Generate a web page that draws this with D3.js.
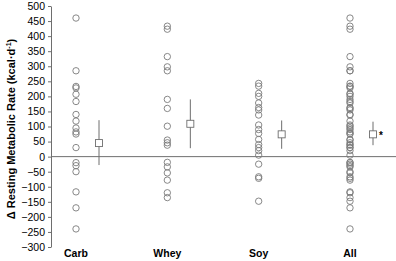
<!DOCTYPE html>
<html>
<head>
<meta charset="utf-8">
<script src="https://cdn.jsdelivr.net/npm/d3@7"></script>
<style>
  body { margin: 0; background: #fff; }
  svg { display: block; font-family: "Liberation Sans", Arial, sans-serif; }
</style>
</head>
<body>
<svg id="chart" width="396" height="261"></svg>
<script>
// Groups along the x axis
const groups = ["Carb", "Whey", "Soy", "All"];

// Individual changes in RMR (kcal/d)
const carbVals = [460, 285, 233, 228, 207, 183, 140, 118, 95, 82, 75, 30, -20, -30, -50, -117, -170, -240];
const wheyVals = [433, 423, 332, 298, 285, 190, 160, 101, 55, 46, 38, -19, -34, -54, -78, -120, -136];
const soyVals = [243, 234, 210, 200, 178, 163, 155, 138, 105, 90, 77, 57, 40, 30, 20, 5, -25, -67, -72, -148];
const allVals = [460, 433, 423, 332, 298, 285, 285, 243, 234, 233, 228, 210, 207, 200, 190, 183, 178, 163,
  160, 155, 140, 138, 118, 105, 101, 95, 90, 82, 77, 75, 57, 55, 46, 40, 38, 30, 30, 20, 5,
  -19, -20, -25, -30, -34, -50, -54, -67, -72, -78, -117, -120, -136, -148, -170, -240];

// Group means with bars (low / high)
const means = [45, 109, 74, 74];
const barLow = [-28, 28, 26, 38];
const barHigh = [121, 190, 120, 116];
const marks = ["", "", "", "*"];

const yTicks = d3.range(-300, 501, 50);

const svg = d3.select("#chart");
const width = 396, height = 261;

const points = [carbVals, wheyVals, soyVals, allVals]
  .flatMap((vals, i) => vals.map(v => ({ g: groups[i], v })));

const x = d3.scalePoint()
  .domain(groups)
  .range([76, 350]);

const y = d3.scaleLinear()
  .domain([-300, 500])
  .range([247, 6]);

const grey = "#6e6e6e";
const offset = 23;

// Y axis
const yAxis = svg.append("g")
  .attr("transform", "translate(51,0)")
  .call(d3.axisLeft(y).tickValues(yTicks).tickSize(3).tickSizeOuter(0).tickPadding(3));
yAxis.select(".domain").attr("stroke", grey);
yAxis.selectAll(".tick line").attr("stroke", grey);
yAxis.selectAll("text")
  .attr("font-size", "10.5px")
  .attr("fill", "#000")
  .style("font-family", "Liberation Sans, Arial, sans-serif");

// zero line
svg.append("line")
  .attr("x1", 51).attr("x2", width)
  .attr("y1", y(0)).attr("y2", y(0))
  .attr("stroke", grey)
  .attr("stroke-width", 1);

// individual points
svg.append("g")
  .selectAll("circle")
  .data(points)
  .enter()
  .append("circle")
    .attr("cx", d => x(d.g))
    .attr("cy", d => y(d.v))
    .attr("r", 3.2)
    .attr("fill", "none")
    .attr("stroke", "#7a7a7a")
    .attr("stroke-width", 0.9);

// mean +/- bars
const stats = groups.map((g, i) => ({ g, mean: means[i], lo: barLow[i], hi: barHigh[i], mark: marks[i] }));

svg.append("g")
  .selectAll("line")
  .data(stats)
  .enter()
  .append("line")
    .attr("x1", d => x(d.g) + offset)
    .attr("x2", d => x(d.g) + offset)
    .attr("y1", d => y(d.lo))
    .attr("y2", d => y(d.hi))
    .attr("stroke", grey)
    .attr("stroke-width", 1);

svg.append("g")
  .selectAll("rect")
  .data(stats)
  .enter()
  .append("rect")
    .attr("x", d => x(d.g) + offset - 3.5)
    .attr("y", d => y(d.mean) - 3.5)
    .attr("width", 7)
    .attr("height", 7)
    .attr("fill", "#fff")
    .attr("stroke", grey)
    .attr("stroke-width", 0.9);

svg.append("g")
  .selectAll("text")
  .data(stats.filter(d => d.mark))
  .enter()
  .append("text")
    .attr("x", d => x(d.g) + offset + 6)
    .attr("y", d => y(d.mean) + 5)
    .attr("font-size", "10px")
    .attr("font-weight", "bold")
    .text(d => d.mark);

// group labels
svg.append("g")
  .selectAll("text")
  .data(groups)
  .enter()
  .append("text")
    .attr("x", d => x(d))
    .attr("y", 257)
    .attr("text-anchor", "middle")
    .attr("font-size", "10.5px")
    .attr("font-weight", "bold")
    .text(d => d);

// Y-axis label
const yl = svg.append("text")
  .attr("transform", "rotate(-90)")
  .attr("x", -129)
  .attr("y", 15)
  .attr("text-anchor", "middle")
  .attr("font-size", "11px")
  .attr("font-weight", "bold");
yl.append("tspan").text("\u0394 Resting Metabolic Rate (kcal\u00b7d");
yl.append("tspan").attr("dy", -4).attr("font-size", "7px").text("-1");
yl.append("tspan").attr("dy", 4).text(")");
</script>
</body>
</html>
